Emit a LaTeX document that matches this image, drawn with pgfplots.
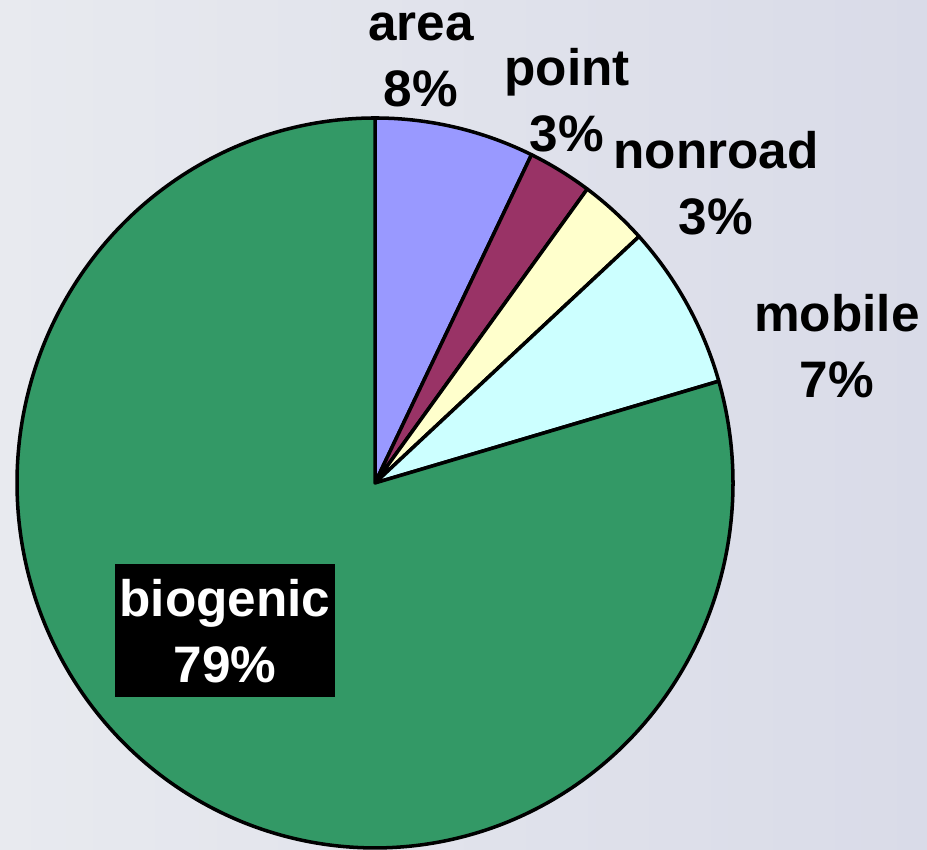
\documentclass[border=0pt]{standalone}
\usepackage{fontspec}
\setmainfont{Liberation Sans}
\usepackage{pgfplots}
\pgfplotsset{compat=1.18}
\definecolor{cArea}{HTML}{9999FF}
\definecolor{cPoint}{HTML}{993366}
\definecolor{cNonroad}{HTML}{FFFFCC}
\definecolor{cMobile}{HTML}{CCFFFF}
\definecolor{cBio}{HTML}{339966}
\definecolor{bgL}{HTML}{E8EAEF}
\definecolor{bgR}{HTML}{D9DBE8}
\tikzset{lbl/.style={font=\bfseries\fontsize{14.6}{18.8}\selectfont, align=center, inner sep=0pt}}
\begin{document}
\begin{tikzpicture}
% shares in percent (clockwise from 12 o'clock)
\def\vArea{7.2}
\def\vPoint{2.9}
\def\vNonroad{3.1}
\def\vMobile{7.3}
\def\vBio{79.5}
\pgfmathsetmacro\aA{90}
\pgfmathsetmacro\aB{\aA-3.6*\vArea}
\pgfmathsetmacro\aC{\aB-3.6*\vPoint}
\pgfmathsetmacro\aD{\aC-3.6*\vNonroad}
\pgfmathsetmacro\aE{\aD-3.6*\vMobile}
\pgfmathsetmacro\aF{\aE-3.6*\vBio}
\def\cx{375}
\def\cy{367}
\def\rx{358}
\def\ry{365}
\begin{axis}[
  width=9.27cm, height=8.5cm, scale only axis,
  xmin=0, xmax=927, ymin=0, ymax=850,
  hide axis, clip=false,
  every axis plot/.append style={draw=black, line width=1pt, samples=120, variable=\t, line join=round},
]
\fill[left color=bgL, right color=bgR] (axis cs:0,0) rectangle (axis cs:927,850);
\addplot[fill=cArea, domain=\aB:\aA] ({\cx+\rx*cos(t)},{\cy+\ry*sin(t)}) -- (axis cs:\cx,\cy) -- cycle;
\addplot[fill=cPoint, domain=\aC:\aB] ({\cx+\rx*cos(t)},{\cy+\ry*sin(t)}) -- (axis cs:\cx,\cy) -- cycle;
\addplot[fill=cNonroad, domain=\aD:\aC] ({\cx+\rx*cos(t)},{\cy+\ry*sin(t)}) -- (axis cs:\cx,\cy) -- cycle;
\addplot[fill=cMobile, domain=\aE:\aD] ({\cx+\rx*cos(t)},{\cy+\ry*sin(t)}) -- (axis cs:\cx,\cy) -- cycle;
\addplot[fill=cBio, domain=\aF:\aE, samples=300] ({\cx+\rx*cos(t)},{\cy+\ry*sin(t)}) -- (axis cs:\cx,\cy) -- cycle;
\node[lbl] at (axis cs:421,790) {area\\8\%};
\node[lbl] at (axis cs:567,750) {point\\3\%};
\node[lbl] at (axis cs:716,667) {nonroad\\3\%};
\node[lbl] at (axis cs:837,504) {mobile\\7\%};
\node[lbl, fill=black, text=white, minimum width=2.2cm, minimum height=1.33cm] at (axis cs:225,219) {biogenic\\79\%};
\end{axis}
\end{tikzpicture}
\end{document}
